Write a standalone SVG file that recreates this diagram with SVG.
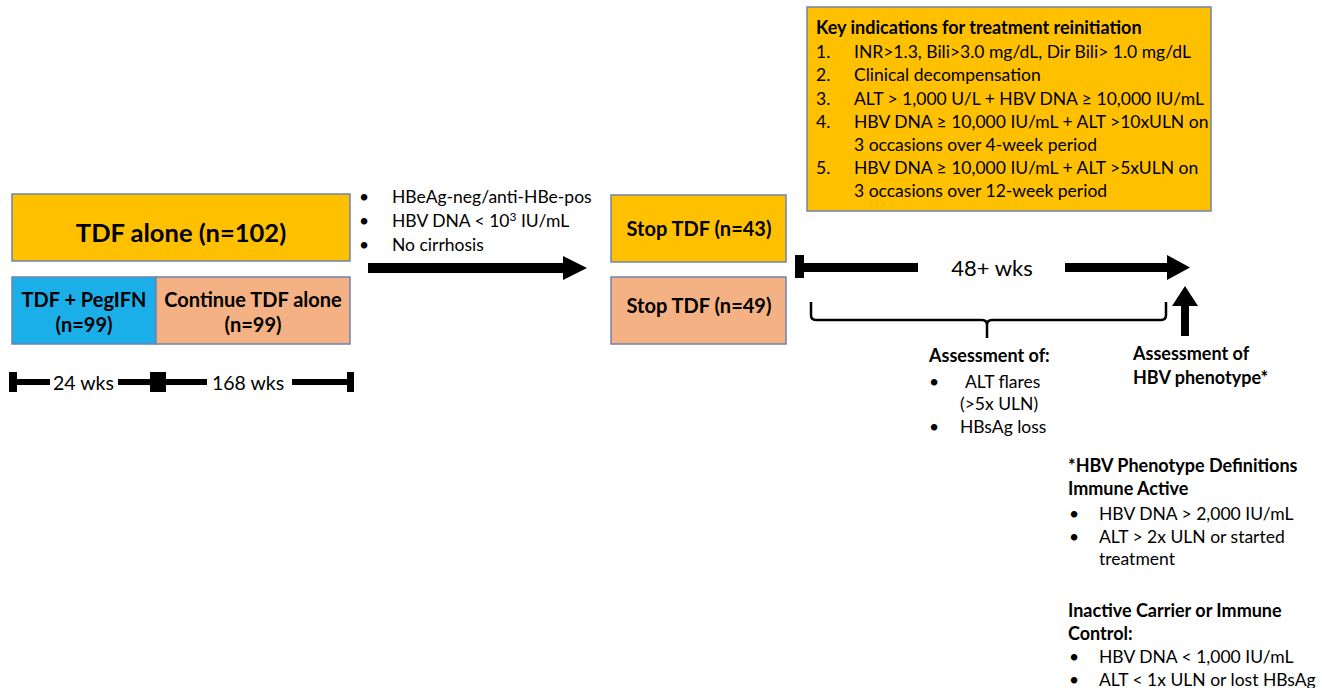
<svg xmlns="http://www.w3.org/2000/svg" width="1322" height="688" viewBox="0 0 1322 688">
<style>
text{font-family:Lato,"Open Sans","Liberation Sans",sans-serif;fill:#000}
.b{font-weight:bold}
.box{stroke:#6F83AE;stroke-width:1.5}
.t16{font-size:17.5px}
.t16.b{font-size:18px}
.bar{fill:#000}
</style>
<rect width="1322" height="688" fill="#fff"/>
<g id="tdf-alone">
<rect class="box" x="12" y="194" width="338" height="67" fill="#FFC000"/>
<text class="b" x="181" y="242" font-size="25.5" text-anchor="middle">TDF alone (n=102)</text>
</g>
<g id="tdf-pegifn">
<rect class="box" x="12" y="277" width="144" height="67" fill="#1AAFE8"/>
<text class="b" x="84" y="307" font-size="20" text-anchor="middle">TDF + PegIFN</text>
<text class="b" x="84" y="332" font-size="20" text-anchor="middle">(n=99)</text>
</g>
<g id="continue-tdf">
<rect class="box" x="156" y="277" width="194" height="67" fill="#F4B183"/>
<text class="b" x="253" y="307" font-size="20" text-anchor="middle">Continue TDF alone</text>
<text class="b" x="253" y="332" font-size="20" text-anchor="middle">(n=99)</text>
</g>
<g id="stop-43">
<rect class="box" x="611" y="195" width="175" height="67" fill="#FFC000"/>
<text class="b" x="699" y="236" font-size="20" text-anchor="middle">Stop TDF (n=43)</text>
</g>
<g id="stop-49">
<rect class="box" x="611" y="277" width="175" height="67" fill="#F4B183"/>
<text class="b" x="699" y="313" font-size="20" text-anchor="middle">Stop TDF (n=49)</text>
</g>
<g id="criteria">
<text class="t16" x="359" y="203">•</text><text class="t16" x="392" y="203">HBeAg-neg/anti-HBe-pos</text>
<text class="t16" x="359" y="227">•</text><text class="t16" x="392" y="227">HBV DNA &lt; 10<tspan font-size="12" dy="-6">3</tspan><tspan dy="6"> IU/mL</tspan></text>
<text class="t16" x="359" y="251">•</text><text class="t16" x="392" y="251">No cirrhosis</text>
</g>
<g id="key-indications">
<rect class="box" x="807" y="7" width="404" height="204" fill="#FFC000"/>
<text class="t16 b" x="816" y="34">Key indications for treatment reinitiation</text>
<text class="t16" x="816" y="58">1.</text><text class="t16" x="854" y="58">INR&gt;1.3, Bili&gt;3.0 mg/dL, Dir Bili&gt; 1.0 mg/dL</text>
<text class="t16" x="816" y="81">2.</text><text class="t16" x="854" y="81">Clinical decompensation</text>
<text class="t16" x="816" y="105">3.</text><text class="t16" x="854" y="105">ALT &gt; 1,000 U/L + HBV DNA ≥ 10,000 IU/mL</text>
<text class="t16" x="816" y="128">4.</text><text class="t16" x="854" y="128">HBV DNA ≥ 10,000 IU/mL + ALT &gt;10xULN on</text>
<text class="t16" x="854" y="151">3 occasions over 4-week period</text>
<text class="t16" x="816" y="174">5.</text><text class="t16" x="854" y="174">HBV DNA ≥ 10,000 IU/mL + ALT &gt;5xULN on</text>
<text class="t16" x="854" y="197">3 occasions over 12-week period</text>
</g>
<g id="timeline-left">
<rect class="bar" x="9" y="372" width="8" height="20"/>
<rect class="bar" x="17" y="379" width="33" height="6"/>
<text x="53" y="390" font-size="19.5">24 wks</text>
<rect class="bar" x="118" y="379" width="32" height="6"/>
<rect class="bar" x="150" y="372" width="16" height="20"/>
<rect class="bar" x="166" y="379" width="41" height="6"/>
<text x="212" y="390" font-size="19.5">168 wks</text>
<rect class="bar" x="292" y="379" width="55" height="6"/>
<rect class="bar" x="347" y="372" width="7" height="20"/>
</g>
<g id="timeline-right">
<rect class="bar" x="795" y="255" width="9" height="23"/>
<rect class="bar" x="804" y="263" width="114" height="9"/>
<text x="992" y="276" font-size="22" text-anchor="middle">48+ wks</text>
</g>
<g id="connectors">
<polygon class="bar" points="368,263 563,263 563,256 587,268 563,280 563,273 368,273"/>
<polygon class="bar" points="1065,263 1167,263 1167,255 1190,267.5 1167,280 1167,272 1065,272"/>
<polygon class="bar" points="1181,336 1181,306 1172,306 1185,286 1198,306 1189,306 1189,336"/>
<path d="M811,302 V315 Q811,320 816,320 H982 Q987,320 987,325 V338 M987,325 Q987,320 992,320 H1161 Q1166,320 1166,315 V302" fill="none" stroke="#000" stroke-width="2.5"/>
</g>
<g id="assessment-of">
<text class="t16 b" x="929" y="362">Assessment of:</text>
<text class="t16" x="929" y="388">•</text><text class="t16" x="965" y="388">ALT flares</text>
<text class="t16" x="960" y="410">(&gt;5x ULN)</text>
<text class="t16" x="929" y="433">•</text><text class="t16" x="960" y="433">HBsAg loss</text>
</g>
<g id="assessment-phenotype">
<text class="t16 b" x="1133" y="360">Assessment of</text>
<text class="t16 b" x="1133" y="384">HBV phenotype*</text>
</g>
<g id="definitions">
<text class="t16 b" x="1068" y="472">*HBV Phenotype Definitions</text>
<text class="t16 b" x="1068" y="495">Immune Active</text>
<text class="t16" x="1069" y="520">•</text><text class="t16" x="1099" y="520">HBV DNA &gt; 2,000 IU/mL</text>
<text class="t16" x="1069" y="543">•</text><text class="t16" x="1099" y="543">ALT &gt; 2x ULN or started</text>
<text class="t16" x="1099" y="565">treatment</text>
<text class="t16 b" x="1068" y="617">Inactive Carrier or Immune</text>
<text class="t16 b" x="1068" y="640">Control:</text>
<text class="t16" x="1069" y="663">•</text><text class="t16" x="1099" y="663">HBV DNA &lt; 1,000 IU/mL</text>
<text class="t16" x="1069" y="686">•</text><text class="t16" x="1099" y="686">ALT &lt; 1x ULN or lost HBsAg</text>
</g>
</svg>
